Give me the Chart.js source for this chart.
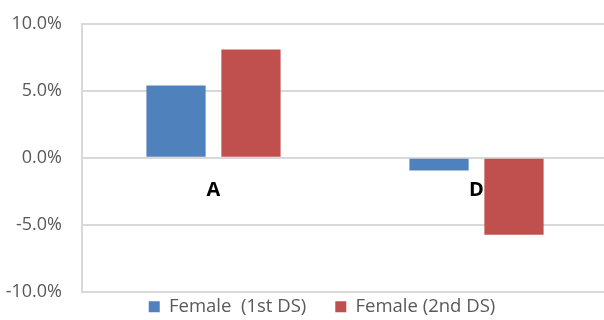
<!DOCTYPE html>
<html>
<head>
<meta charset="utf-8">
<script src="https://cdn.jsdelivr.net/npm/chart.js@4"></script>
<style>
    body { margin: 0; overflow: hidden; background: #fff; }
</style>
</head>
<body>
<canvas id="genderChart" width="644" height="320"></canvas>
<script>
// categories and series values (percent)
const categories = ["A", "D"];
const firstDS = [5.4, -0.95];
const secondDS = [8.1, -5.75];
const seriesNames = ["Female  (1st DS)", "Female (2nd DS)"];

// y axis ticks go from -10% to 10% in 5% steps
const yMin = -10;
const yMax = 10;
const yStep = 5;

const fontFamily = "'Open Sans', 'Liberation Sans', sans-serif";

// Excel puts the category names next to the zero line, so draw them there
const categoryLabels = {
    id: 'categoryLabels',
    beforeDatasetsDraw(chart) {
        const { ctx, scales: { x, y } } = chart;
        ctx.save();
        ctx.font = `bold 20px ${fontFamily}`;
        ctx.fillStyle = '#000';
        ctx.textAlign = 'center';
        ctx.textBaseline = 'middle';
        categories.forEach((cat, i) => {
            ctx.fillText(cat, x.getPixelForValue(i), y.getPixelForValue(0) + 32);
        });
        ctx.restore();
    }
};

const ctx = document.getElementById('genderChart').getContext('2d');

new Chart(ctx, {
    type: 'bar',
    data: {
        labels: categories,
        datasets: [{
            label: seriesNames[0],
            data: firstDS,
            backgroundColor: '#4F81BD'
        }, {
            label: seriesNames[1],
            data: secondDS,
            backgroundColor: '#C0504D'
        }]
    },
    options: {
        responsive: false,
        animation: false,
        categoryPercentage: 0.57,
        barPercentage: 0.79,
        layout: {
            padding: { top: 24, left: 0, right: 0, bottom: -6 }
        },
        scales: {
            x: {
                display: false
            },
            y: {
                min: yMin,
                max: yMax,
                // fixed width, and no extra space above/below from the tick padding
                afterFit: scale => {
                    scale.width = 82;
                    scale.paddingTop = 0;
                    scale.paddingBottom = 0;
                },
                ticks: {
                    stepSize: yStep,
                    padding: 20,
                    color: '#595959',
                    font: { family: fontFamily, size: 18 },
                    callback: v => v.toFixed(1) + '%'
                },
                grid: {
                    color: '#d9d9d9',
                    lineWidth: 2,
                    drawTicks: false
                },
                border: { color: '#d9d9d9', width: 2 }
            },
            // empty axis on the right, only to leave the cropped margin
            spacer: {
                position: 'right',
                afterFit: scale => { scale.width = 36; },
                ticks: { display: false },
                grid: { display: false },
                border: { display: false }
            }
        },
        plugins: {
            legend: {
                position: 'bottom',
                // empty title with negative padding pulls the items back up,
                // so the wide gap between items doesn't push them down
                title: {
                    display: true,
                    text: '',
                    font: { size: 1 },
                    padding: { top: -12.2, bottom: -12.2 }
                },
                labels: {
                    boxWidth: 11,
                    boxHeight: 11,
                    padding: 29,
                    color: '#595959',
                    font: { family: fontFamily, size: 18.5 }
                }
            },
            tooltip: { enabled: false }
        }
    },
    plugins: [categoryLabels]
});
</script>
</body>
</html>
